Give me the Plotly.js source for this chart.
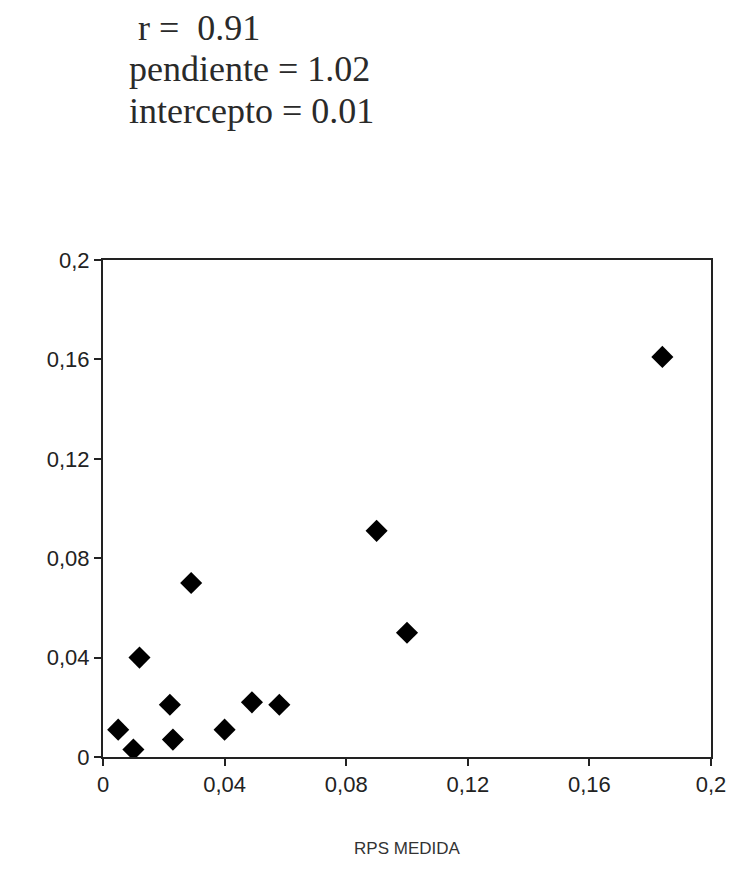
<!DOCTYPE html>
<html>
<head>
<meta charset="utf-8">
<script src="https://cdn.plot.ly/plotly-3.0.1.min.js"></script>
<style>html,body{margin:0;padding:0;background:#fff;}#chart{width:742px;height:875px;}</style>
</head>
<body>
<div id="chart"></div>
<script>
const rpsMedida = [0.005, 0.010, 0.012, 0.022, 0.023, 0.029, 0.040, 0.049, 0.058, 0.090, 0.100, 0.184];
const rpsEstimada = [0.011, 0.003, 0.040, 0.021, 0.007, 0.070, 0.011, 0.022, 0.021, 0.091, 0.050, 0.161];
const tickVals = [0, 0.04, 0.08, 0.12, 0.16, 0.2];
const tickText = ["0", "0,04", "0,08", "0,12", "0,16", "0,2"];
const statLines = [" r =  0.91", "pendiente = 1.02", "intercepto = 0.01"];
const xTitle = "RPS MEDIDA";

const trace = {
  x: rpsMedida, y: rpsEstimada, type: "scatter", mode: "markers",
  marker: {symbol: "diamond", size: 17, color: "#000"},
  hoverinfo: "skip"
};
const axisCommon = {
  range: [0, 0.2], tickvals: tickVals, ticktext: tickText,
  showgrid: false, zeroline: false, showline: true, linecolor: "#222", linewidth: 2,
  mirror: true, ticks: "outside", ticklen: 7, tickwidth: 2, tickcolor: "#222",
  tickfont: {family: "Liberation Sans, Arial, sans-serif", size: 22, color: "#222"}
};
const lineMid = [28, 69, 111];
const layout = {
  width: 742, height: 875,
  margin: {l: 103, r: 31, t: 260, b: 118},
  paper_bgcolor: "#fff", plot_bgcolor: "#fff",
  showlegend: false,
  xaxis: Object.assign({}, axisCommon, {
    title: {text: xTitle, font: {family: "Liberation Sans, Arial, sans-serif", size: 17, color: "#333"}, standoff: 46}
  }),
  yaxis: Object.assign({}, axisCommon, {}),
  annotations: statLines.map((t, i) => ({
    xref: "paper", yref: "paper", x: (127 - 103) / 608, xanchor: "left",
    y: 1 + (260 - lineMid[i]) / 497, yanchor: "middle",
    text: t, showarrow: false,
    font: {family: "Liberation Serif, Times New Roman, serif", size: 36, color: "#2a2a2a"}
  }))
};
Plotly.newPlot("chart", [trace], layout, {displayModeBar: false, staticPlot: true});
</script>
</body>
</html>
